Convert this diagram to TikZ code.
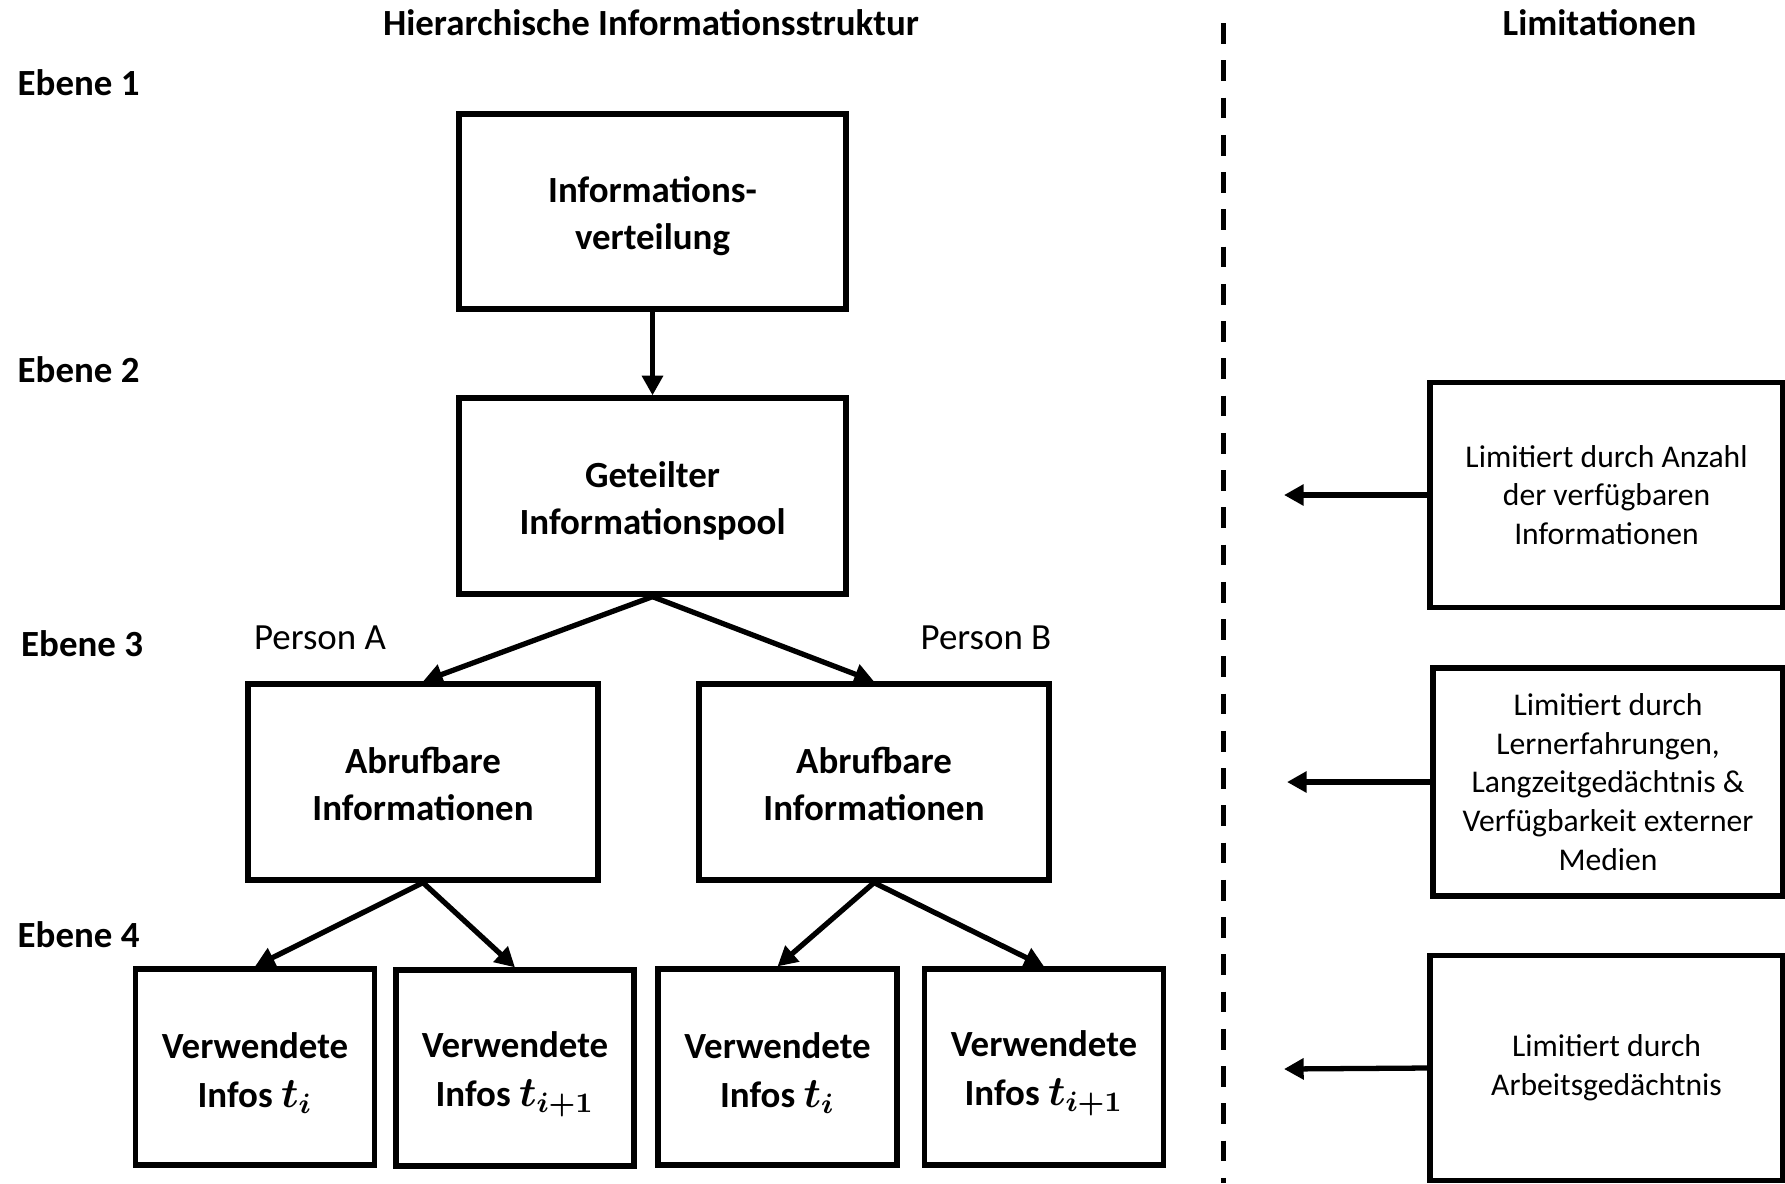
\documentclass[tikz,border=0pt]{standalone}
\usepackage{amsmath}
\usepackage{fontspec}
\setmainfont{Carlito}
\usetikzlibrary{arrows.meta, positioning}

\newcommand{\tsub}[1]{{\fontsize{11.5}{13.3}\selectfont$\boldsymbol{t_{#1}}$}}

\begin{document}
\begin{tikzpicture}[
                  font        = \fontsize{10.5}{13}\selectfont,
                  box/.style  = {draw, line width=1.5pt, inner sep=0pt, align=center, font=\fontsize{10.5}{13.3}\selectfont\bfseries},
                  lim/.style  = {draw, line width=1.5pt, inner sep=0pt, align=center, font=\fontsize{9}{11}\selectfont},
                  lvl/.style  = {anchor=west, inner sep=0pt, font=\fontsize{10.5}{13}\selectfont\bfseries},
                  arr/.style  = {-{Triangle[length=5.6pt, width=5.8pt]}, line width=1.5pt}
            ]
            \useasboundingbox (0,0) rectangle (17.85,-11.83);

            % ueberschriften
            \node[font=\fontsize{10.5}{13}\selectfont\bfseries] (head) at (6.51,-0.23) {Hierarchische Informationsstruktur};
            \node[font=\fontsize{10.5}{13}\selectfont\bfseries] (headlim) at (15.995,-0.23) {Limitationen};

            % ebenen
            \node[lvl] (e1) at (0.17,-0.83)  {Ebene 1};
            \node[lvl] (e2) at (0.17,-3.70)  {Ebene 2};
            \node[lvl] (e3) at (0.205,-6.44) {Ebene 3};
            \node[lvl] (e4) at (0.17,-9.35)  {Ebene 4};

            % hierarchie
            \node[box, minimum width=3.87cm, minimum height=1.95cm] (vert) at (6.525,-2.115) {\rule{0pt}{10pt}Informations-\\verteilung};
            \node[box, minimum width=3.87cm, minimum height=1.96cm] (pool) at (6.525,-4.96)  {\rule{0pt}{10pt}Geteilter\\Informationspool};

            \node[box, minimum width=3.50cm, minimum height=1.96cm] (abrA) at (4.23,-7.82) {\rule{0pt}{8.5pt}Abrufbare\\Informationen};
            \node[box, minimum width=3.50cm, minimum height=1.96cm] (abrB) at (8.74,-7.82) {\rule{0pt}{8.5pt}Abrufbare\\Informationen};
            \node (persA) at (3.20,-6.375) {Person A};
            \node (persB) at (9.86,-6.375) {Person B};

            \node[box, minimum width=2.39cm, minimum height=1.96cm] (useA1) at (2.55,-10.67)  {\rule{0pt}{11pt}Verwendete\\[0.5pt]Infos \tsub{i}};
            \node[box, minimum width=2.38cm, minimum height=1.96cm] (useA2) at (5.15,-10.68)  {\rule{0pt}{11pt}Verwendete\\[0.5pt]Infos \tsub{i+1}};
            \node[box, minimum width=2.39cm, minimum height=1.96cm] (useB1) at (7.775,-10.67) {\rule{0pt}{11pt}Verwendete\\[0.5pt]Infos \tsub{i}};
            \node[box, minimum width=2.39cm, minimum height=1.96cm] (useB2) at (10.44,-10.67) {\rule{0pt}{11pt}Verwendete\\[0.5pt]Infos \tsub{i+1}};

            \draw[arr] (vert.south) -- (pool.north);
            \draw[arr] (pool.south) -- (abrA.north);
            \draw[arr] (pool.south) -- (abrB.north);
            \draw[arr] (abrA.south) -- (useA1.north);
            \draw[arr] (abrA.south) -- (useA2.north);
            \draw[arr] (abrB.south) -- (useB1.north);
            \draw[arr] (abrB.south) -- (useB2.north);

            % trennlinie
            \draw[line width=1.5pt, dash pattern=on 5.9pt off 4.7pt] (12.235,-0.23) -- (12.235,-11.83);

            % limitationen
            \node[lim, minimum width=3.53cm, minimum height=2.25cm] (limA) at (16.065,-4.95)  {Limitiert durch Anzahl\\der verfügbaren\\Informationen};
            \node[lim, minimum width=3.50cm, minimum height=2.28cm] (limB) at (16.08,-7.82)   {Limitiert durch\\Lernerfahrungen,\\Langzeitgedächtnis \&\\Verfügbarkeit externer\\Medien};
            \node[lim, minimum width=3.53cm, minimum height=2.245cm] (limC) at (16.065,-10.68) {Limitiert durch\\Arbeitsgedächtnis};

            \coordinate (tipA) at (12.84,-4.95);
            \coordinate (tipB) at (12.87,-7.82);
            \coordinate (tipC) at (12.84,-10.69);
            \draw[arr] (limA.west) -- (tipA);
            \draw[arr] (limB.west) -- (tipB);
            \draw[arr] (limC.west) -- (tipC);
      \end{tikzpicture}
\end{document}
